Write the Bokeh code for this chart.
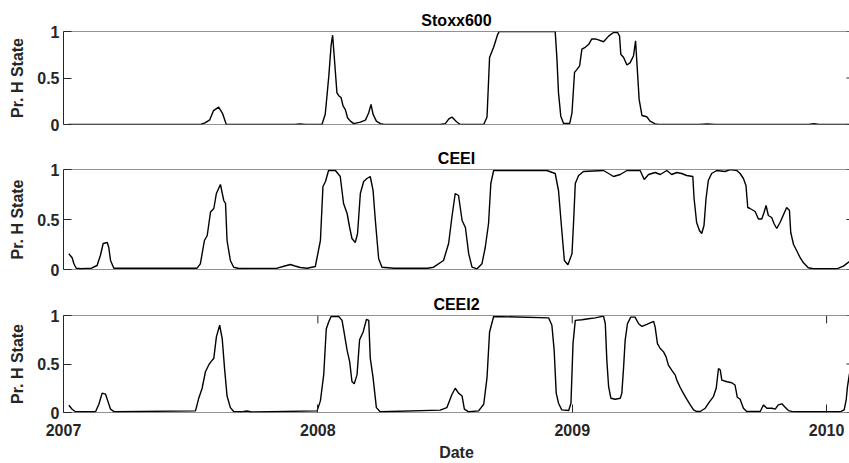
from bokeh.plotting import figure
from bokeh.models import Range1d, FixedTicker, Span
from bokeh.layouts import column
from bokeh.embed import file_html
from bokeh.resources import INLINE

# ---- data (decimal year, probability of the high-volatility state) ----
stoxx_t = [2007.02, 2007.54, 2007.558, 2007.575, 2007.59, 2007.61, 2007.625, 2007.64, 2007.91, 2007.93,
           2007.95, 2008.016, 2008.029, 2008.043, 2008.052, 2008.058, 2008.066, 2008.075, 2008.082, 2008.091,
           2008.099, 2008.108, 2008.117, 2008.128, 2008.141, 2008.167, 2008.187, 2008.2, 2008.209, 2008.217,
           2008.23, 2008.246, 2008.26, 2008.48, 2008.501, 2008.515, 2008.527, 2008.545, 2008.56, 2008.652,
           2008.665, 2008.675, 2008.691, 2008.707, 2008.713, 2008.933, 2008.94, 2008.946, 2008.955, 2008.966,
           2008.99, 2008.999, 2009.009, 2009.018, 2009.029, 2009.038, 2009.051, 2009.064, 2009.077, 2009.09,
           2009.103, 2009.123, 2009.143, 2009.162, 2009.178, 2009.186, 2009.191, 2009.202, 2009.215, 2009.228,
           2009.241, 2009.249, 2009.255, 2009.263, 2009.274, 2009.293, 2009.306, 2009.326, 2009.34, 2009.5,
           2009.53, 2009.56, 2009.93, 2009.95, 2009.97, 2010.09]
stoxx_p = [0.0, 0.0, 0.02, 0.05, 0.15, 0.186, 0.12, 0.0, 0.0, 0.006,
           0.0, 0.0, 0.11, 0.52, 0.85, 0.96, 0.67, 0.34, 0.31, 0.29,
           0.2, 0.16, 0.07, 0.036, 0.01, 0.025, 0.047, 0.126, 0.216, 0.11,
           0.036, 0.01, 0.0, 0.0, 0.01, 0.06, 0.08, 0.03, 0.0, 0.0,
           0.08, 0.72, 0.83, 0.97, 1.0, 1.0, 0.70, 0.34, 0.09, 0.01,
           0.01, 0.126, 0.56, 0.59, 0.63, 0.81, 0.83, 0.86, 0.92, 0.92,
           0.91, 0.89, 0.95, 0.99, 0.99, 0.95, 0.755, 0.72, 0.64, 0.665,
           0.74, 0.90, 0.63, 0.27, 0.097, 0.083, 0.036, 0.007, 0.0, 0.0,
           0.005, 0.0, 0.0, 0.008, 0.0, 0.0]

ceei_t = [2007.021, 2007.034, 2007.041, 2007.05, 2007.07, 2007.11, 2007.132, 2007.145, 2007.156, 2007.172,
          2007.178, 2007.185, 2007.198, 2007.525, 2007.538, 2007.554, 2007.565, 2007.578, 2007.591, 2007.601,
          2007.617, 2007.63, 2007.637, 2007.643, 2007.656, 2007.669, 2007.69, 2007.84, 2007.87, 2007.892,
          2007.91, 2007.931, 2007.958, 2007.99, 2008.01, 2008.02, 2008.03, 2008.042, 2008.069, 2008.088,
          2008.101, 2008.115, 2008.125, 2008.134, 2008.147, 2008.156, 2008.167, 2008.18, 2008.193, 2008.206,
          2008.217, 2008.226, 2008.239, 2008.252, 2008.3, 2008.43, 2008.455, 2008.494, 2008.514, 2008.527,
          2008.54, 2008.553, 2008.567, 2008.58, 2008.593, 2008.606, 2008.626, 2008.645, 2008.658, 2008.671,
          2008.68, 2008.691, 2008.9, 2008.933, 2008.946, 2008.959, 2008.969, 2008.983, 2008.999, 2009.005,
          2009.012, 2009.025, 2009.044, 2009.123, 2009.143, 2009.162, 2009.189, 2009.215, 2009.267, 2009.283,
          2009.3, 2009.326, 2009.346, 2009.372, 2009.391, 2009.411, 2009.43, 2009.45, 2009.474, 2009.479,
          2009.489, 2009.5, 2009.509, 2009.518, 2009.526, 2009.535, 2009.548, 2009.568, 2009.601, 2009.621,
          2009.647, 2009.66, 2009.673, 2009.683, 2009.69, 2009.699, 2009.719, 2009.732, 2009.745, 2009.754,
          2009.762, 2009.771, 2009.784, 2009.794, 2009.804, 2009.817, 2009.83, 2009.843, 2009.854, 2009.859,
          2009.87, 2009.883, 2009.896, 2009.909, 2009.928, 2009.948, 2010.04, 2010.066, 2010.09]
ceei_p = [0.157, 0.117, 0.057, 0.013, 0.007, 0.013, 0.04, 0.14, 0.26, 0.27,
          0.22, 0.09, 0.013, 0.013, 0.057, 0.29, 0.34, 0.575, 0.61, 0.76,
          0.85, 0.69, 0.66, 0.29, 0.09, 0.023, 0.01, 0.013, 0.035, 0.05,
          0.035, 0.02, 0.013, 0.03, 0.29, 0.83, 0.88, 0.99, 0.99, 0.93,
          0.66, 0.56, 0.42, 0.31, 0.27, 0.36, 0.76, 0.88, 0.91, 0.93,
          0.79, 0.49, 0.107, 0.023, 0.013, 0.013, 0.023, 0.09, 0.26, 0.525,
          0.76, 0.74, 0.49, 0.42, 0.157, 0.023, 0.007, 0.057, 0.22, 0.46,
          0.86, 0.99, 0.99, 0.96, 0.79, 0.39, 0.09, 0.047, 0.157, 0.46,
          0.86, 0.94, 0.98, 0.99, 0.96, 0.93, 0.95, 0.99, 0.99, 0.90,
          0.95, 0.97, 0.95, 0.99, 0.95, 0.97, 0.96, 0.94, 0.93, 0.71,
          0.47, 0.39, 0.36, 0.44, 0.71, 0.89, 0.96, 0.99, 0.98, 1.0,
          0.99, 0.96, 0.91, 0.84, 0.62, 0.61, 0.58, 0.505, 0.505, 0.57,
          0.64, 0.54, 0.52, 0.455, 0.41, 0.47, 0.545, 0.62, 0.59, 0.37,
          0.25, 0.185, 0.118, 0.067, 0.017, 0.007, 0.007, 0.034, 0.08]

ceei2_t = [2007.021, 2007.034, 2007.047, 2007.126, 2007.139, 2007.152, 2007.165, 2007.174, 2007.185, 2007.2,
           2007.519, 2007.532, 2007.545, 2007.558, 2007.571, 2007.58, 2007.591, 2007.601, 2007.614, 2007.624,
           2007.633, 2007.643, 2007.656, 2007.669, 2007.7, 2007.72, 2007.74, 2007.997, 2008.01, 2008.023,
           2008.033, 2008.042, 2008.052, 2008.082, 2008.095, 2008.101, 2008.115, 2008.125, 2008.134, 2008.143,
           2008.154, 2008.164, 2008.178, 2008.191, 2008.2, 2008.206, 2008.217, 2008.23, 2008.245, 2008.481,
           2008.507, 2008.527, 2008.54, 2008.553, 2008.567, 2008.576, 2008.593, 2008.632, 2008.652, 2008.665,
           2008.675, 2008.691, 2008.907, 2008.92, 2008.929, 2008.937, 2008.946, 2008.959, 2008.986, 2008.995,
           2009.003, 2009.012, 2009.038, 2009.064, 2009.09, 2009.123, 2009.13, 2009.136, 2009.143, 2009.152,
           2009.169, 2009.189, 2009.195, 2009.202, 2009.208, 2009.217, 2009.23, 2009.247, 2009.261, 2009.274,
           2009.293, 2009.32, 2009.326, 2009.335, 2009.346, 2009.359, 2009.369, 2009.378, 2009.391, 2009.405,
           2009.411, 2009.424, 2009.437, 2009.45, 2009.464, 2009.477, 2009.49, 2009.503, 2009.523, 2009.536,
           2009.555, 2009.566, 2009.575, 2009.582, 2009.588, 2009.608, 2009.627, 2009.64, 2009.649, 2009.66,
           2009.673, 2009.686, 2009.739, 2009.752, 2009.765, 2009.785, 2009.798, 2009.81, 2009.824, 2009.837,
           2009.85, 2009.87, 2010.053, 2010.069, 2010.077, 2010.082, 2010.09]
ceei2_p = [0.075, 0.034, 0.007, 0.007, 0.085, 0.20, 0.19, 0.12, 0.034, 0.007,
           0.017, 0.15, 0.25, 0.42, 0.49, 0.525, 0.56, 0.78, 0.90, 0.76,
           0.46, 0.17, 0.05, 0.01, 0.007, 0.015, 0.005, 0.017, 0.12, 0.39,
           0.86, 0.93, 0.99, 0.99, 0.95, 0.86, 0.64, 0.525, 0.32, 0.295,
           0.39, 0.75, 0.83, 0.96, 0.95, 0.56, 0.36, 0.05, 0.007, 0.024,
           0.05, 0.186, 0.25, 0.20, 0.17, 0.034, 0.007, 0.017, 0.085, 0.36,
           0.83, 0.99, 0.976, 0.90, 0.64, 0.2, 0.096, 0.027, 0.02, 0.096,
           0.71, 0.95, 0.956, 0.966, 0.976, 0.993, 0.915, 0.54, 0.266, 0.147,
           0.137, 0.147, 0.2, 0.47, 0.744, 0.915, 0.983, 0.983, 0.915, 0.887,
           0.908, 0.94, 0.88, 0.71, 0.66, 0.625, 0.573, 0.488, 0.437, 0.386,
           0.334, 0.26, 0.198, 0.137, 0.078, 0.027, 0.01, 0.01, 0.044, 0.096,
           0.164, 0.25, 0.454, 0.437, 0.334, 0.317, 0.307, 0.283, 0.157, 0.137,
           0.044, 0.01, 0.01, 0.078, 0.044, 0.044, 0.034, 0.078, 0.089, 0.055,
           0.02, 0.007, 0.007, 0.027, 0.13, 0.266, 0.4]

titles = ["Stoxx600", "CEEI", "CEEI2"]
y_ticks = [0, 0.5, 1]
y_tick_labels = ["0", "0.5", "1"]
x_ticks = [2007, 2008, 2009, 2010]
x_tick_labels = ["2007", "2008", "2009", "2010"]
x_label = "Date"
y_label = "Pr. H State"

for a, b in [(stoxx_t, stoxx_p), (ceei_t, ceei_p), (ceei2_t, ceei2_p)]:
    assert len(a) == len(b), (len(a), len(b))

FONT = "Liberation Sans"
AX = "#262626"
X0, X1 = 2007.0, 2010.09
FRAME_LEFT, FRAME_W = 63, 786
TICK_PX = 8          # inner tick length
RIGHT_TICK_PX = 3    # only the left part of the (cropped) right-side ticks is visible


def style_axis(ax, ticks, labels):
    ax.ticker = FixedTicker(ticks=ticks)
    ax.major_label_overrides = {t: l for t, l in zip(ticks, labels)}
    ax.minor_tick_line_color = None
    ax.major_tick_in = TICK_PX
    ax.major_tick_out = 0
    ax.major_tick_line_color = AX
    ax.major_label_text_font = FONT
    ax.major_label_text_font_style = "bold"
    ax.major_label_text_color = AX
    ax.major_label_text_font_size = "16px"
    ax.axis_label_text_font = FONT
    ax.axis_label_text_font_size = "16px"
    ax.axis_label_text_font_style = "bold"
    ax.axis_label_text_color = AX


def make_panel(title, t, pv, height, top, bottom, show_x):
    frame_h = height - top - bottom
    p = figure(width=849, height=height, output_backend="svg", toolbar_location=None,
               x_range=Range1d(X0, X1), y_range=Range1d(0, 1),
               min_border_left=FRAME_LEFT, min_border_right=0, min_border_top=top,
               min_border_bottom=bottom,
               background_fill_color="white", border_fill_color="white")
    p.grid.visible = False
    p.outline_line_color = None
    p.title.text = title
    p.title.align = "center"
    p.title.text_font = FONT
    p.title.text_font_size = "16px"
    p.title.text_font_style = "bold"
    p.title.text_color = "black"
    p.title.standoff = 5

    style_axis(p.yaxis[0], y_ticks, y_tick_labels)
    p.yaxis.axis_line_color = AX
    p.yaxis.major_label_standoff = 4
    p.yaxis.axis_label = y_label
    p.yaxis.axis_label_standoff = 8

    # top and bottom edges of the axes box (right edge lies outside the picture)
    for loc in (0, 1):
        p.add_layout(Span(location=loc, dimension="width", line_color=AX, line_width=1))

    # mirrored y ticks on the right edge
    dx = RIGHT_TICK_PX * (X1 - X0) / FRAME_W
    p.segment(x0=[X1] * len(y_ticks), y0=y_ticks, x1=[X1 - dx] * len(y_ticks), y1=y_ticks,
              line_color=AX, line_width=1)

    if show_x:
        style_axis(p.xaxis[0], x_ticks, x_tick_labels)
        p.xaxis.axis_line_color = None
        p.xaxis.major_label_standoff = 11
        p.xaxis.axis_label = x_label
        p.xaxis.axis_label_standoff = 5
        # mirrored x ticks on the top edge
        dy = TICK_PX / frame_h
        p.segment(x0=x_ticks, y0=[1] * len(x_ticks), x1=x_ticks, y1=[1 - dy] * len(x_ticks),
                  line_color=AX, line_width=1)
    else:
        p.xaxis.visible = False

    p.line(t, pv, line_color="black", line_width=1.4)
    return p


p1 = make_panel(titles[0], stoxx_t, stoxx_p, 140, 31, 16, False)
p2 = make_panel(titles[1], ceei_t, ceei_p, 146, 29, 17, False)
p3 = make_panel(titles[2], ceei2_t, ceei2_p, 177, 29, 50, True)

layout = column(p1, p2, p3, spacing=0)
open("out.html", "w").write(file_html(layout, INLINE))
